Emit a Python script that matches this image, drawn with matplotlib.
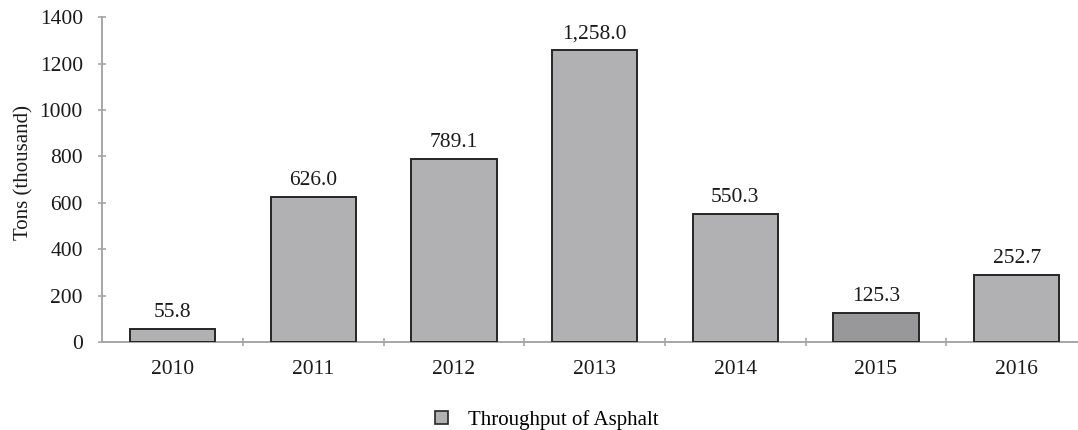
import matplotlib
matplotlib.use("Agg")
import matplotlib.pyplot as plt
from matplotlib.patches import Patch

years = ["2010", "2011", "2012", "2013", "2014", "2015", "2016"]
heights = [55.8, 626.0, 789.1, 1258.0, 550.3, 125.3, 289.0]
labels = ["55.8", "626.0", "789.1", "1,258.0", "550.3", "125.3", "252.7"]
colors = ["#b1b1b3", "#b1b1b3", "#b1b1b3", "#b1b1b3", "#b1b1b3", "#98989a", "#b1b1b3"]
yticks = [0, 200, 400, 600, 800, 1000, 1200, 1400]

plt.rcParams["font.family"] = ["Liberation Serif", "DejaVu Serif"]

W, H = 1078, 430
fig = plt.figure(figsize=(W / 100, H / 100), dpi=100)
ax = fig.add_axes([102.3 / W, 1 - 342 / H, (1087 - 102.3) / W, 324.7 / H])

x = list(range(len(years)))
ax.bar(x, heights, width=0.605, color=colors, edgecolor="#262626", linewidth=1.4, zorder=3)
for xi, h, lab in zip(x, heights, labels):
    ax.text(xi, h + 30, lab, ha="center", va="bottom", fontsize=15.5, color="#1a1a1a")

ax.set_xlim(-0.5, 6.5)
ax.set_ylim(0, 1400)
ax.set_yticks(yticks)
ax.set_yticklabels([str(v) for v in yticks], fontsize=15.5, color="#1a1a1a")
ax.set_xticks(x)
ax.set_xticklabels(years, fontsize=15.5, color="#1a1a1a")
ax.set_xticks([i + 0.5 for i in range(len(years))], minor=True)
ax.tick_params(axis="x", which="major", length=0, pad=13)
ax.tick_params(axis="x", which="minor", direction="inout", length=6, width=1.2, color="#a6a6a6")
ax.tick_params(axis="y", direction="inout", length=6, width=1.2, color="#a6a6a6", pad=11)

for s in ["top", "right"]:
    ax.spines[s].set_visible(False)
for s in ["left", "bottom"]:
    ax.spines[s].set_color("#a6a6a6")
    ax.spines[s].set_linewidth(1.4)

ax.set_ylabel("Tons (thousand)", fontsize=15, color="#1a1a1a")
ax.yaxis.set_label_coords((33 - 102.3) / 985, (342 - 172) / 324.7)

handle = Patch(facecolor="#b1b1b3", edgecolor="#262626", linewidth=1.2)
fig.legend([handle], ["Throughput of Asphalt"], loc="center", bbox_to_anchor=(547 / W, 1 - 420 / H),
           frameon=False, fontsize=15, handlelength=0.6, handleheight=0.6, handletextpad=1.0,
           borderpad=0, borderaxespad=0)

fig.savefig("out.png", dpi=100)
